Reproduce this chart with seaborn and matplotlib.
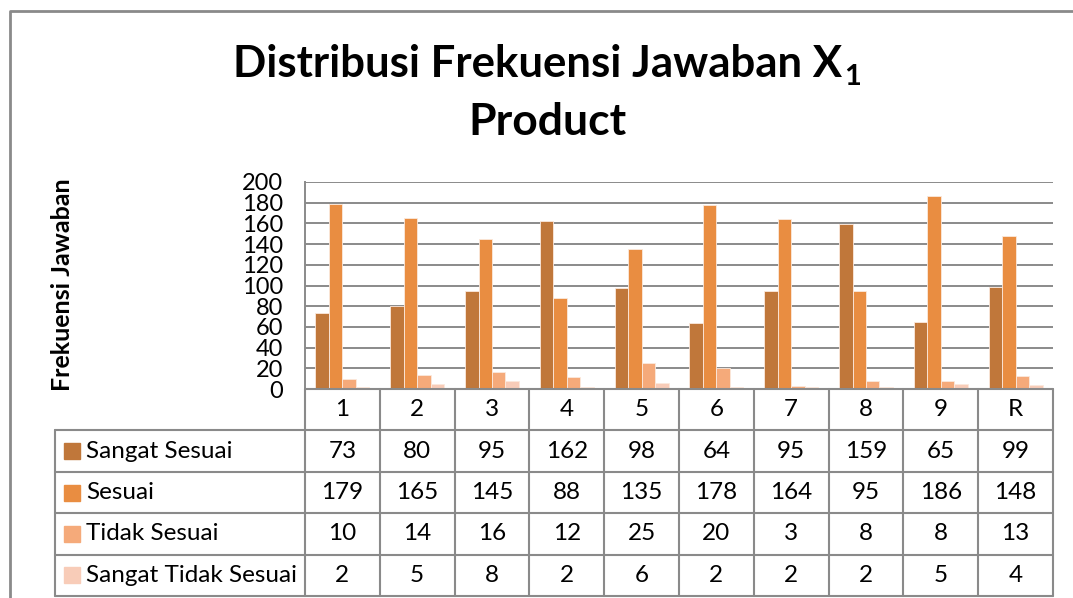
import matplotlib
matplotlib.use("Agg")
import matplotlib.pyplot as plt
from matplotlib.lines import Line2D
import seaborn as sns
import pandas as pd

kategori = ["1", "2", "3", "4", "5", "6", "7", "8", "9", "R"]
seri = ["Sangat Sesuai", "Sesuai", "Tidak Sesuai", "Sangat Tidak Sesuai"]
sangat_sesuai = [73, 80, 95, 162, 98, 64, 95, 159, 65, 99]
sesuai = [179, 165, 145, 88, 135, 178, 164, 95, 186, 148]
tidak_sesuai = [10, 14, 16, 12, 25, 20, 3, 8, 8, 13]
sangat_tidak_sesuai = [2, 5, 8, 2, 6, 2, 2, 2, 5, 4]
warna = ["#C0773A", "#E98D41", "#F5AA7A", "#F8CCB8"]

nilai = [sangat_sesuai, sesuai, tidak_sesuai, sangat_tidak_sesuai]
df = pd.DataFrame({
    "kategori": kategori * 4,
    "seri": [s for s in seri for _ in kategori],
    "nilai": [v for row in nilai for v in row],
})

sns.set_theme(style="white")
plt.rcParams["font.family"] = ["Lato", "DejaVu Sans"]
plt.rcParams["text.color"] = "black"

W, H = 1073, 598
fig = plt.figure(figsize=(W / 100, H / 100), dpi=100)
grid_col = "#8a8a8a"

# chart area
ax = fig.add_axes([305 / W, 1 - 389 / H, 748 / W, 207 / H])
sns.barplot(data=df, x="kategori", y="nilai", hue="seri", order=kategori,
            hue_order=seri, palette=warna, width=0.72, saturation=1,
            legend=False, ax=ax, zorder=3, edgecolor="#fbe9dd", linewidth=0.6)
ax.set_xlim(-0.5, 9.5)
ax.set_ylim(0, 200)
ax.set_yticks(range(0, 201, 20))
ax.yaxis.grid(True, color=grid_col, lw=1.4, zorder=0)
ax.set_axisbelow(True)
ax.set_xticks([])
ax.set_xlabel("")
ax.set_ylabel("")
for s in ["top", "right", "bottom"]:
    ax.spines[s].set_visible(False)
ax.spines["left"].set_color(grid_col)
ax.spines["left"].set_linewidth(1.4)
ax.tick_params(axis="y", length=0, pad=16, labelsize=17, colors="black")

# data table below the chart
col_w = 748 / 10
xmin = -0.5 - 250 / col_w
tax = fig.add_axes([55 / W, 1 - 596 / H, 998 / W, 207 / H])
tax.set_xlim(xmin, 9.5)
tax.set_ylim(5, 0)
tax.axis("off")
lk = dict(color=grid_col, lw=1.5, clip_on=False)
tax.plot([-0.5, 9.5], [0, 0], **lk)
for r in range(1, 6):
    tax.plot([xmin, 9.5], [r, r], **lk)
for i in range(11):
    tax.plot([-0.5 + i, -0.5 + i], [0, 5], **lk)
tax.plot([xmin, xmin], [1, 5], **lk)

fs = 17.5
for i, k in enumerate(kategori):
    tax.text(i, 0.5, k, ha="center", va="center", fontsize=fs)
for r, (s, c, vals) in enumerate(zip(seri, warna, nilai), start=1):
    tax.plot(xmin + 17 / col_w, r + 0.5, marker="s", ms=11, color=c, clip_on=False)
    tax.text(xmin + 31 / col_w, r + 0.5, s, ha="left", va="center", fontsize=fs)
    for i, v in enumerate(vals):
        tax.text(i, r + 0.5, str(v), ha="center", va="center", fontsize=fs)

# titles
t1 = fig.text(538 / W, 1 - 64 / H, "Distribusi Frekuensi Jawaban X",
              ha="center", va="center", fontsize=31.5, fontweight="bold")
fig.canvas.draw()
bb = t1.get_window_extent()
fig.text(bb.x1 / W + 2 / W, bb.y0 / H - 6 / H, "1", ha="left", va="bottom",
         fontsize=21, fontweight="bold")
fig.text(547 / W, 1 - 122 / H, "Product", ha="center", va="center",
         fontsize=32, fontweight="bold")
fig.text(63 / W, 1 - 285 / H, "Frekuensi Jawaban", rotation=90, ha="center",
         va="center", fontsize=18, fontweight="bold")

# outer chart frame
fig.add_artist(Line2D([10 / W, 10 / W, 1], [0, 1 - 11 / H, 1 - 11 / H],
                      color=grid_col, lw=2))

fig.savefig("out.png", dpi=100)
